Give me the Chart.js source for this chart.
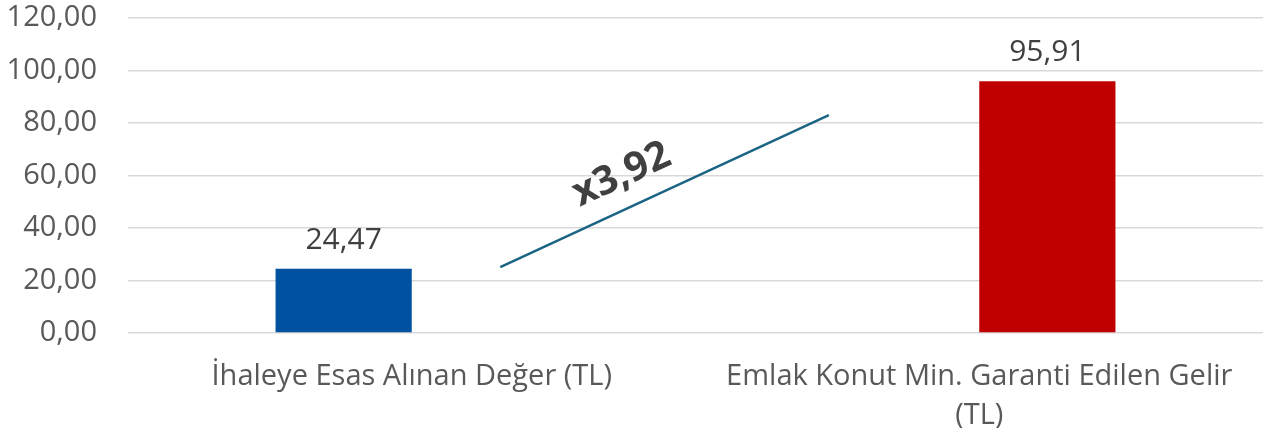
<!DOCTYPE html>
<html>
<head>
<meta charset="utf-8">
<script src="https://cdn.jsdelivr.net/npm/chart.js@4"></script>
<style>
  html, body { margin: 0; padding: 0; background: #fff; }
  #wrap { width: 1270px; height: 428px; position: relative; }
</style>
</head>
<body>
<div id="wrap"><canvas id="c"></canvas></div>
<script>
/* === Ihale vs. garanti gelir chart === */

const categories = ['İhaleye Esas Alınan Değer (TL)', ['Emlak Konut Min. Garanti Edilen Gelir', '(TL)']];
const ihaleValues = [24.47, null];
const garantiValues = [null, 95.91];
const yTicks = [0, 20, 40, 60, 80, 100, 120];

// decorative ratio line, x in category units (0 = first bar group, 1 = second)
const trendX = [0.156, 0.735];
const trendY = [25.1, 83.0];
const ratioText = 'x3,92';
const ratioAt = [0.37, 60.2];

const FONT = '"Open Sans", "Liberation Sans", Arial, sans-serif';
const fmt = v => v.toFixed(2).replace('.', ',');

// ── Value labels + ratio text ──
const labelsPlugin = {
    id: 'labels',
    afterDatasetsDraw(chart) {
        const ctx = chart.ctx;
        ctx.save();
        ctx.font = `30px ${FONT}`;
        ctx.fillStyle = '#404040';
        ctx.textAlign = 'center';
        ctx.textBaseline = 'alphabetic';
        [0, 1].forEach(di => {
            const meta = chart.getDatasetMeta(di);
            meta.data.forEach((bar, i) => {
                const v = chart.data.datasets[di].data[i];
                if (v == null) return;
                ctx.fillText(fmt(v), bar.x, bar.y - 20);
            });
        });
        const xs = chart.scales.x, ys = chart.scales.y;
        ctx.translate(xs.getPixelForValue(ratioAt[0]), ys.getPixelForValue(ratioAt[1]));
        ctx.rotate(-24.7 * Math.PI / 180);
        ctx.textBaseline = 'middle';
        ctx.font = `bold 40px ${FONT}`;
        ctx.fillText(ratioText, 0, 0);
        ctx.restore();
    }
};

new Chart(document.getElementById('c'), {
    type: 'bar',
    data: {
        labels: categories,
        datasets: [
            { data: ihaleValues, backgroundColor: '#00519F', categoryPercentage: 0.48, barPercentage: 1 },
            { data: garantiValues, backgroundColor: '#C00000', categoryPercentage: 0.48, barPercentage: 1 },
            { type: 'line', parsing: false, data: trendX.map((x, i) => ({ x, y: trendY[i] })),
              borderColor: '#1C6484', borderWidth: 2.5, pointRadius: 0, tension: 0 }
        ]
    },
    options: {
        responsive: true, maintainAspectRatio: false, animation: false,
        layout: { padding: { left: 0, right: 7, top: 18, bottom: 0 } },
        plugins: { legend: { display: false }, tooltip: { enabled: false } },
        scales: {
            x: {
                grid: { display: false }, border: { display: false },
                ticks: { color: '#595959', font: { family: FONT, size: 29, lineHeight: 1.35 }, padding: 16, maxRotation: 0, autoSkip: false },
                afterFit: s => { s.height = 95; s.paddingLeft = 0; s.paddingRight = 0; }
            },
            y: {
                min: 0, max: 120,
                afterBuildTicks: s => { s.ticks = yTicks.map(v => ({ value: v })); },
                grid: { color: '#D9D9D9', lineWidth: 1.5, drawTicks: false },
                border: { display: false },
                ticks: { color: '#595959', font: { family: FONT, size: 29 }, padding: 31, callback: v => fmt(v) },
                afterFit: s => { s.width = 128; s.paddingTop = 0; s.paddingBottom = 0; }
            }
        }
    },
    plugins: [labelsPlugin]
});
</script>
</body>
</html>
